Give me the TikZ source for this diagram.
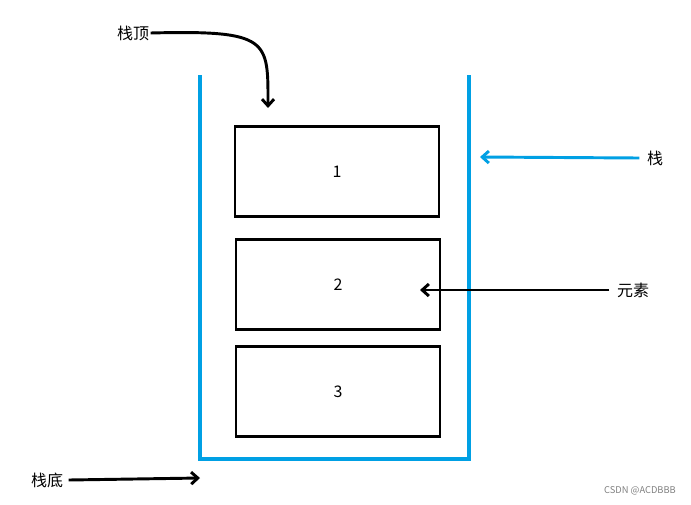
\documentclass[tikz,border=0pt]{standalone}
\usepackage{fontspec}
\setmainfont{Noto Sans CJK SC}
\usetikzlibrary{arrows.meta}
\definecolor{stackblue}{RGB}{0,160,228}
\begin{document}
\begin{tikzpicture}[x=0.75pt, y=-0.75pt]
    \tikzstyle{elem}=[draw,line width = 2.2pt,black,minimum width=153pt,minimum height=68pt,inner sep=0pt,font=\large]
    \tikzstyle{tag}=[font=\large,inner sep=1pt]
    \tikzstyle{pointer}=[line width = 2.2pt,-{Straight Barb[length=5pt,width=9pt]}]
    \useasboundingbox (0,0) rectangle (691,504);
    \draw[stackblue,line width = 3pt] (200,75) -- (200,459) -- (469,459) -- (469,75);
    \node[elem] (e1) at (337,171.5) {1};
    \node[elem] (e2) at (338,284.5) {2};
    \node[elem] (e3) at (338,391.5) {3};
    \node[tag] (top) at (133,33) {栈顶};
    \node[tag] (stack) at (655,158) {栈};
    \node[tag] (item) at (633,290) {元素};
    \node[tag] (bottom) at (47,480) {栈底};
    \coordinate (topend) at (268,108);
    \coordinate (stackend) at (480,157);
    \coordinate (itemend) at (420,290);
    \coordinate (bottomend) at (200,478);
    \draw[pointer] (top.east) .. controls (270,30) and (268,40) .. (topend);
    \draw[pointer,stackblue] (stack.west) ++(-6,0) -- (stackend);
    \draw[pointer] (item.west) ++(-6,0) -- (itemend);
    \draw[pointer] (bottom.east) ++(4,0) -- (bottomend);
    \node[gray,font=\scriptsize] (mark) at (640,491) {CSDN @ACDBBB};
\end{tikzpicture}
\end{document}
